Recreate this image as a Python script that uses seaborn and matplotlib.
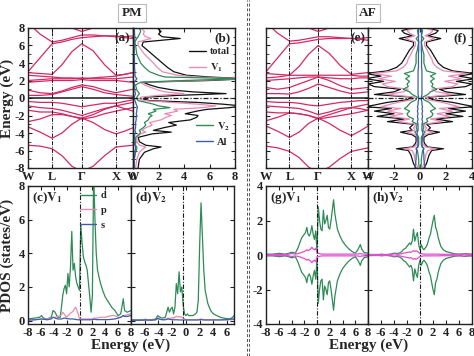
import matplotlib
matplotlib.use('Agg')
from matplotlib import pyplot as plt
from matplotlib.lines import Line2D
from matplotlib.ticker import MultipleLocator
import numpy as np
import pandas as pd
import seaborn as sns

# ------------------------------------------------------------
# Band structure data (W - L - Gamma - X - W, fcc path)
# ------------------------------------------------------------
k_path = [0.0, 0.115, 0.23, 0.324, 0.418, 0.512, 0.62, 0.729, 0.837, 0.918, 1.0]
k_ticks = [0.0, 0.23, 0.512, 0.837, 1.0]
k_labels = ['W', 'L', 'Γ', 'X', 'W']

pm_bands = [
    [-5.4, -5.5, -5.8, -6.6, -7.8, -8.4, -7.8, -6.6, -5.6, -5.5, -5.4],
    [-3.3, -3.9, -4.6, -4.0, -3.0, -2.3, -2.8, -3.6, -4.1, -3.8, -3.4],
    [-2.7, -2.4, -1.9, -1.9, -2.1, -2.3, -1.9, -1.3, -0.9, -0.7, -0.5],
    [-1.4, -1.6, -1.6, -1.8, -2.1, -2.4, -2.2, -1.8, -1.5, -1.3, -1.1],
    [-0.9, -1.1, -1.2, -1.4, -1.7, -2.0, -1.6, -1.2, -0.9, -1.2, -1.5],
    [-0.4, -0.5, -0.5, -0.6, -0.8, -1.0, -0.8, -0.6, -0.6, -0.4, -0.2],
    [0.3, 0.3, 0.4, 0.7, 1.0, 1.3, 1.0, 0.6, 0.4, 0.3, 0.2],
    [0.9, 0.6, 0.5, 0.8, 1.2, 1.5, 1.3, 0.9, 0.6, 0.8, 1.0],
    [1.8, 1.9, 2.0, 2.0, 2.0, 2.1, 2.0, 2.0, 2.0, 1.9, 1.8],
    [2.0, 2.1, 2.2, 2.2, 2.2, 2.3, 2.2, 2.2, 2.2, 2.3, 2.4],
    [2.6, 2.5, 2.4, 2.3, 2.3, 2.2, 2.3, 2.4, 2.5, 2.7, 2.9],
    [2.9, 2.8, 2.7, 3.8, 5.3, 6.2, 5.4, 3.8, 2.6, 2.7, 2.9],
    [3.0, 4.6, 6.2, 6.4, 6.7, 6.9, 7.0, 7.1, 7.1, 6.9, 6.8],
    [8.6, 7.3, 6.4, 6.6, 6.9, 7.2, 7.2, 7.1, 7.0, 7.0, 7.1],
    [9.5, 9.5, 9.0, 8.6, 8.0, 7.6, 8.0, 8.6, 9.0, 9.5, 9.5],
]

af_bands = [
    [-5.5, -5.7, -6.1, -6.8, -7.9, -8.5, -7.9, -6.9, -6.1, -5.9, -5.7],
    [-3.2, -3.8, -4.5, -3.9, -2.9, -2.3, -2.9, -3.7, -4.3, -3.8, -3.2],
    [-2.6, -2.2, -1.7, -1.8, -2.0, -2.3, -1.9, -1.5, -1.1, -0.9, -0.7],
    [-1.6, -1.7, -1.7, -1.8, -2.0, -2.4, -2.2, -2.0, -1.8, -1.6, -1.4],
    [-0.9, -1.0, -1.1, -1.2, -1.5, -1.9, -1.6, -1.2, -1.1, -1.2, -1.4],
    [-0.4, -0.5, -0.5, -0.6, -0.8, -0.9, -0.7, -0.5, -0.4, -0.3, -0.3],
    [0.5, 0.5, 0.45, 0.7, 1.1, 1.6, 1.2, 0.8, 0.5, 0.6, 0.7],
    [1.2, 1.0, 1.2, 1.6, 2.0, 2.4, 2.0, 1.4, 1.0, 1.1, 1.2],
    [2.0, 2.1, 2.2, 2.3, 2.4, 2.4, 2.3, 2.2, 2.2, 2.3, 2.3],
    [2.3, 2.4, 2.6, 2.6, 2.6, 2.6, 2.6, 2.6, 2.6, 2.5, 2.5],
    [2.8, 2.7, 2.6, 3.6, 5.0, 6.0, 5.1, 3.7, 2.7, 2.8, 2.9],
    [3.0, 4.6, 6.2, 6.3, 6.5, 6.7, 6.8, 6.8, 6.8, 6.7, 6.6],
    [8.6, 7.4, 6.5, 6.6, 6.8, 7.0, 7.0, 6.9, 6.8, 6.8, 6.9],
    [9.5, 9.5, 9.0, 8.6, 8.0, 7.6, 8.0, 8.6, 9.0, 9.5, 9.5],
]

# ------------------------------------------------------------
# Total / site DOS, PM (b)
# ------------------------------------------------------------
e_b = [-8.0, -7.0, -6.2, -5.8, -5.6, -5.4, -5.0, -4.5, -4.1, -3.9,
       -3.7, -3.4, -3.1, -2.8, -2.5, -2.2, -2.0, -1.8, -1.5, -1.3,
       -1.1, -0.9, -0.7, -0.5, -0.3, -0.1, 0.1, 0.3, 0.5, 0.7,
       0.9, 1.2, 1.5, 1.8, 2.0, 2.2, 2.4, 2.6, 3.0, 3.5,
       4.0, 5.0, 6.0, 6.4, 6.8, 7.0, 7.3, 7.6, 8.0]
total_b = [0.4, 0.5, 0.9, 1.6, 2.2, 1.0, 0.5, 0.4, 1.5, 3.0,
           1.6, 2.4, 3.4, 2.8, 4.5, 5.0, 5.1, 4.1, 5.0, 5.8,
           7.6, 8.5, 7.0, 5.0, 1.3, 0.8, 1.0, 3.5, 7.3, 4.7,
           3.2, 2.0, 1.3, 0.8, 6.0, 9.0, 6.0, 4.2, 3.2, 2.7,
           2.3, 1.5, 0.7, 0.8, 3.7, 2.3, 2.0, 2.2, 1.9]
v1_b = [0.2, 0.3, 0.5, 0.8, 1.0, 0.5, 0.3, 0.3, 0.6, 1.0,
        0.7, 1.0, 1.5, 1.3, 2.2, 2.6, 3.0, 2.5, 3.5, 3.2,
        5.5, 6.5, 5.0, 3.0, 0.8, 0.5, 0.6, 2.0, 4.0, 2.5,
        2.0, 1.4, 0.9, 0.6, 5.0, 8.5, 5.0, 3.5, 2.3, 1.9,
        1.6, 0.9, 0.4, 0.4, 1.4, 1.0, 0.8, 0.9, 0.6]
v2_b = [0.1, 0.1, 0.2, 0.3, 0.3, 0.2, 0.2, 0.2, 0.5, 0.6,
        0.5, 0.8, 1.0, 0.9, 1.2, 1.3, 1.5, 1.2, 1.8, 1.6,
        2.9, 2.0, 1.6, 1.0, 0.4, 0.3, 0.3, 0.4, 0.5, 0.4,
        0.3, 0.25, 0.2, 0.6, 4.0, 8.5, 2.5, 2.0, 1.3, 0.9,
        0.6, 0.3, 0.2, 0.15, 0.3, 0.4, 0.5, 0.6, 0.5]
al_b = [0.1, 0.1, 0.15, 0.2, 0.2, 0.15, 0.1, 0.1, 0.15, 0.2,
        0.15, 0.2, 0.2, 0.2, 0.25, 0.25, 0.3, 0.25, 0.3, 0.3,
        0.35, 0.3, 0.25, 0.2, 0.15, 0.1, 0.1, 0.15, 0.2, 0.15,
        0.15, 0.1, 0.1, 0.1, 0.2, 0.3, 0.2, 0.15, 0.15, 0.12,
        0.12, 0.1, 0.1, 0.1, 0.15, 0.15, 0.12, 0.12, 0.1]

# ------------------------------------------------------------
# Spin-up DOS, AF (f) -- spin-down drawn mirrored
# ------------------------------------------------------------
e_f = [-8.0, -7.5, -7.0, -6.5, -6.0, -5.8, -5.6, -5.3, -5.0, -4.5,
       -4.2, -3.9, -3.7, -3.4, -3.0, -2.7, -2.4, -2.1, -1.8, -1.5,
       -1.2, -1.0, -0.8, -0.5, -0.2, 0.1, 0.4, 0.7, 1.0, 1.3,
       1.6, 1.9, 2.2, 2.5, 2.8, 3.1, 3.5, 4.0, 4.5, 5.0,
       5.5, 6.0, 6.4, 6.8, 7.1, 7.4, 7.7, 8.0]
total_f = [0.3, 0.5, 0.6, 0.7, 0.9, 1.8, 0.6, 0.4, 0.3, 0.3,
           0.6, 1.5, 0.6, 0.8, 0.5, 2.5, 1.2, 3.3, 2.0, 3.5,
           2.2, 4.2, 3.5, 2.5, 1.0, 0.6, 3.5, 2.0, 1.5, 3.5,
           4.0, 2.8, 4.2, 3.0, 4.2, 2.5, 1.8, 1.4, 1.2, 1.0,
           0.8, 0.5, 0.5, 1.6, 0.6, 1.2, 1.4, 0.6]
v1_f = [0.15, 0.3, 0.4, 0.45, 0.6, 1.2, 0.4, 0.25, 0.2, 0.2,
        0.35, 1.0, 0.4, 0.5, 0.3, 1.7, 0.8, 2.3, 1.3, 2.5,
        1.5, 3.0, 2.5, 1.7, 0.6, 0.4, 2.5, 1.3, 0.9, 2.5,
        2.9, 1.9, 3.2, 2.2, 3.6, 1.8, 1.3, 1.0, 0.9, 0.7,
        0.55, 0.35, 0.35, 1.1, 0.4, 0.8, 1.0, 0.4]
v2_f = [0.05, 0.1, 0.1, 0.15, 0.2, 0.3, 0.15, 0.1, 0.1, 0.1,
        0.2, 0.4, 0.2, 0.3, 0.2, 0.6, 0.5, 0.9, 1.0, 0.8,
        1.2, 1.0, 0.9, 0.7, 0.3, 0.2, 0.6, 0.8, 1.3, 0.9,
        1.0, 0.8, 1.1, 0.8, 1.2, 0.5, 0.4, 0.3, 0.3, 0.3,
        0.2, 0.15, 0.1, 0.3, 0.1, 0.15, 0.2, 0.1]
al_f = [0.4, 0.35, 0.3, 0.3, 0.25, 0.3, 0.2, 0.15, 0.15, 0.2,
        0.25, 0.2, 0.15, 0.15, 0.15, 0.2, 0.15, 0.2, 0.15, 0.2,
        0.15, 0.2, 0.15, 0.15, 0.1, 0.1, 0.15, 0.15, 0.15, 0.15,
        0.15, 0.15, 0.15, 0.15, 0.15, 0.15, 0.12, 0.12, 0.12, 0.12,
        0.1, 0.1, 0.1, 0.12, 0.12, 0.12, 0.1, 0.1]

# ------------------------------------------------------------
# Partial DOS of V1 / V2 (c, d: PM; g, h: AF spin-up)
# ------------------------------------------------------------
e_p = [-8.0, -7.0, -6.2, -5.9, -5.6, -5.0, -4.4, -4.1, -3.8, -3.4,
       -3.0, -2.8, -2.6, -2.4, -2.2, -2.0, -1.8, -1.6, -1.4, -1.2,
       -1.0, -0.8, -0.6, -0.4, -0.2, 0.0, 0.2, 0.4, 0.6, 0.8,
       1.0, 1.2, 1.4, 1.6, 1.8, 2.0, 2.2, 2.4, 2.6, 2.8,
       3.2, 3.6, 4.0, 4.5, 5.0, 5.5, 6.0, 6.4, 6.8, 7.0,
       7.4, 8.0]

d_c = [0.10, 0.15, 0.20, 0.30, 0.15, 0.10, 0.20, 0.60, 0.50, 0.20,
       0.20, 0.80, 1.50, 1.90, 2.10, 1.60, 2.80, 2.00, 3.20, 5.30,
       3.00, 3.40, 2.60, 2.20, 2.00, 1.80, 5.70, 4.60, 3.80, 3.50,
       3.30, 3.00, 2.20, 1.40, 0.50, 1.50, 8.80, 6.00, 4.00, 3.00,
       2.30, 1.80, 1.40, 1.10, 0.80, 0.60, 0.30, 0.40, 1.30, 0.60,
       0.50, 0.60]
p_c = [0.05, 0.05, 0.08, 0.10, 0.08, 0.10, 0.15, 0.20, 0.20, 0.25,
       0.30, 0.35, 0.50, 0.40, 0.30, 0.20, 0.30, 0.35, 0.45, 0.50,
       0.55, 0.70, 0.80, 0.60, 0.40, 0.10, 0.10, 0.10, 0.10, 0.10,
       0.10, 0.10, 0.10, 0.10, 0.10, 0.10, 0.15, 0.15, 0.15, 0.15,
       0.20, 0.20, 0.20, 0.25, 0.30, 0.30, 0.20, 0.20, 0.30, 0.30,
       0.35, 0.40]
s_c = [0.03, 0.05, 0.08, 0.10, 0.08, 0.05, 0.10, 0.20, 0.15, 0.10,
       0.10, 0.10, 0.12, 0.15, 0.15, 0.12, 0.12, 0.10, 0.10, 0.10,
       0.10, 0.08, 0.08, 0.06, 0.05, 0.05, 0.05, 0.05, 0.05, 0.05,
       0.05, 0.05, 0.05, 0.05, 0.05, 0.06, 0.08, 0.08, 0.06, 0.06,
       0.06, 0.06, 0.06, 0.06, 0.08, 0.10, 0.15, 0.20, 0.30, 0.25,
       0.25, 0.30]

d_d = [0.05, 0.05, 0.05, 0.08, 0.05, 0.05, 0.10, 0.30, 0.20, 0.15,
       0.20, 0.50, 0.80, 0.50, 0.70, 0.80, 0.40, 0.80, 2.20, 1.60,
       2.90, 1.70, 2.00, 0.90, 0.40, 0.30, 0.40, 0.30, 0.30, 0.30,
       0.30, 0.35, 0.40, 0.50, 1.20, 4.50, 7.00, 5.00, 3.00, 1.80,
       1.00, 0.60, 0.40, 0.30, 0.20, 0.15, 0.12, 0.10, 0.20, 0.30,
       0.35, 0.40]
p_d = [0.02, 0.02, 0.03, 0.04, 0.03, 0.03, 0.05, 0.10, 0.08, 0.06,
       0.08, 0.10, 0.15, 0.12, 0.15, 0.18, 0.15, 0.20, 0.25, 0.22,
       0.25, 0.20, 0.22, 0.15, 0.10, 0.05, 0.05, 0.05, 0.05, 0.05,
       0.05, 0.05, 0.05, 0.05, 0.06, 0.08, 0.10, 0.08, 0.06, 0.05,
       0.05, 0.05, 0.05, 0.05, 0.05, 0.05, 0.05, 0.05, 0.06, 0.08,
       0.08, 0.10]
s_d = [0.02, 0.02, 0.03, 0.04, 0.03, 0.03, 0.05, 0.15, 0.08, 0.05,
       0.05, 0.08, 0.10, 0.08, 0.06, 0.06, 0.05, 0.05, 0.05, 0.05,
       0.04, 0.04, 0.04, 0.04, 0.04, 0.04, 0.04, 0.04, 0.04, 0.04,
       0.04, 0.04, 0.04, 0.04, 0.04, 0.05, 0.06, 0.05, 0.04, 0.04,
       0.04, 0.04, 0.04, 0.04, 0.04, 0.05, 0.06, 0.08, 0.10, 0.10,
       0.10, 0.12]

d_g = [0.05, 0.05, 0.08, 0.10, 0.08, 0.05, 0.10, 0.15, 0.15, 0.10,
       0.40, 0.60, 0.80, 1.00, 1.10, 1.20, 1.30, 1.60, 1.20, 1.10,
       1.30, 1.70, 1.20, 0.90, 1.40, 0.20, 2.80, 2.00, 1.50, 1.40,
       2.60, 1.80, 2.00, 2.30, 1.60, 1.50, 2.00, 2.60, 3.20, 2.40,
       1.50, 1.10, 0.80, 0.55, 0.35, 0.20, 0.10, 0.30, 0.60, 0.35,
       0.15, 0.10]
p_g = [0.02, 0.02, 0.03, 0.04, 0.03, 0.02, 0.05, 0.08, 0.08, 0.05,
       0.08, 0.10, 0.12, 0.15, 0.18, 0.20, 0.25, 0.30, 0.25, 0.30,
       0.35, 0.45, 0.35, 0.30, 0.40, 0.10, 0.10, 0.08, 0.06, 0.05,
       0.05, 0.05, 0.05, 0.05, 0.05, 0.05, 0.05, 0.05, 0.05, 0.05,
       0.05, 0.05, 0.05, 0.05, 0.05, 0.05, 0.05, 0.06, 0.08, 0.06,
       0.05, 0.05]
d_h = [0.03, 0.03, 0.03, 0.05, 0.03, 0.03, 0.06, 0.10, 0.10, 0.08,
       0.15, 0.20, 0.30, 0.35, 0.40, 0.50, 0.60, 0.70, 0.60, 0.80,
       1.50, 0.80, 1.10, 1.30, 0.60, 0.30, 0.60, 0.40, 0.30, 0.40,
       0.50, 0.70, 1.00, 1.20, 1.60, 2.00, 2.30, 1.60, 1.40, 1.00,
       0.50, 0.30, 0.20, 0.15, 0.10, 0.06, 0.05, 0.05, 0.08, 0.08,
       0.06, 0.05]
p_h = [0.02, 0.02, 0.02, 0.03, 0.02, 0.02, 0.04, 0.06, 0.06, 0.04,
       0.06, 0.08, 0.10, 0.12, 0.12, 0.15, 0.15, 0.18, 0.15, 0.20,
       0.25, 0.20, 0.25, 0.20, 0.15, 0.08, 0.08, 0.06, 0.05, 0.05,
       0.05, 0.05, 0.05, 0.05, 0.05, 0.05, 0.05, 0.05, 0.05, 0.05,
       0.04, 0.04, 0.04, 0.04, 0.04, 0.04, 0.04, 0.05, 0.06, 0.05,
       0.04, 0.04]

BAND_C = '#d42a63'
BLACK = '#111111'
PINK = '#e88bb5'
GREEN = '#2e8b57'
BLUE = '#3c5ea8'
MAGENTA = '#e04fd0'
DASHDOT = (0, (4, 1.5, 1, 1.5))

sns.set_theme(style='ticks')
plt.rcParams['font.family'] = ['Liberation Serif', 'DejaVu Serif']
plt.rcParams['font.weight'] = 'bold'
plt.rcParams['axes.labelweight'] = 'bold'
plt.rcParams['axes.unicode_minus'] = False
plt.rcParams['mathtext.fontset'] = 'stix'
plt.rcParams['axes.linewidth'] = 1.0
plt.rcParams['axes.edgecolor'] = '#222222'

W, H = 474, 356
fig = plt.figure(figsize=(W / 100, H / 100), dpi=100)


def rect(x0, x1, y0, y1):
    return [x0 / W, 1 - y1 / H, (x1 - x0) / W, (y1 - y0) / H]


def style(ax):
    ax.tick_params(direction='in', top=True, right=True, length=3,
                   width=0.8, labelsize=9, pad=2, colors='#222222')
    ax.tick_params(which='minor', direction='in', length=1.8, width=0.6,
                   left=True, right=True)
    ax.set_xlabel('')
    ax.set_ylabel('')


def bold_ticks(ax):
    for t in ax.get_xticklabels() + ax.get_yticklabels():
        t.set_fontweight('bold')


def draw_bands(ax, bands):
    rows = []
    for i, band in enumerate(bands):
        for k, e in zip(k_path, band):
            rows.append((i, k, e))
    df = pd.DataFrame(rows, columns=['band', 'k', 'E'])
    sns.lineplot(data=df, x='k', y='E', units='band', estimator=None,
                 sort=False, color=BAND_C, lw=0.9, ax=ax)
    for kv in k_ticks[1:-1]:
        ax.axvline(kv, color='k', ls=DASHDOT, lw=0.7)
    ax.axhline(0, color='k', lw=1.1)
    ax.set_xlim(0, 1)
    ax.set_ylim(-8, 8)
    ax.set_xticks(k_ticks)
    ax.set_xticklabels(k_labels, fontsize=9.5)
    ax.yaxis.set_major_locator(MultipleLocator(2))
    ax.yaxis.set_minor_locator(MultipleLocator(1))
    style(ax)


def draw_dos_h(ax, energy, series, mirror=False):
    for vals, c in series:
        sns.lineplot(x=vals, y=energy, orient='y', sort=False, estimator=None,
                     color=c, lw=0.9, ax=ax)
        if mirror:
            sns.lineplot(x=[-v for v in vals], y=energy, orient='y', sort=False,
                         estimator=None, color=c, lw=0.9, ax=ax)
    ax.axhline(0, color='k', ls=DASHDOT, lw=0.9)
    ax.set_ylim(-8, 8)
    ax.yaxis.set_major_locator(MultipleLocator(2))
    ax.yaxis.set_minor_locator(MultipleLocator(1))
    ax.set_yticklabels([])
    style(ax)


def draw_pdos(ax, series, mirror=False, vline=0.0):
    for vals, c in series:
        sns.lineplot(x=e_p, y=vals, sort=False, estimator=None, color=c,
                     lw=0.9, ax=ax)
        if mirror:
            sns.lineplot(x=e_p, y=[-v for v in vals], sort=False,
                         estimator=None, color=c, lw=0.9, ax=ax)
    ax.axvline(vline, color='k', ls=DASHDOT, lw=0.8)
    style(ax)


# ---------------- PM top row
ax_a = fig.add_axes(rect(28, 133, 28, 168))
draw_bands(ax_a, pm_bands)
ax_a.set_ylabel('Energy (eV)', fontsize=11)
ax_a.yaxis.set_label_coords(-0.135, 0.5)
ax_a.text(0.97, 0.97, '(a)', transform=ax_a.transAxes, ha='right', va='top',
          fontsize=9.5, fontweight='bold')

ax_b = fig.add_axes(rect(133, 235, 28, 168))
draw_dos_h(ax_b, e_b, [(total_b, BLACK), (v1_b, PINK), (v2_b, GREEN), (al_b, BLUE)])
ax_b.set_xlim(0, 8)
ax_b.set_xticks([0, 2, 4, 6, 8])
ax_b.text(0.96, 0.97, '(b)', transform=ax_b.transAxes, ha='right', va='top',
          fontsize=9.5, fontweight='bold')
leg_kw = dict(frameon=False, fontsize=7.5, handlelength=1.6, handletextpad=0.4,
              labelspacing=0.5, borderaxespad=0.1)
leg1 = ax_b.legend([Line2D([], [], color=BLACK, lw=1), Line2D([], [], color=PINK, lw=1)],
                   ['total', r'$\mathbf{V_1}$'], loc='upper right',
                   bbox_to_anchor=(1.0, 0.9), **leg_kw)
ax_b.add_artist(leg1)
ax_b.legend([Line2D([], [], color=GREEN, lw=1), Line2D([], [], color=BLUE, lw=1)],
            [r'$\mathbf{V_2}$', 'Al'], loc='upper right',
            bbox_to_anchor=(1.0, 0.38), **leg_kw)

# ---------------- AF top row
ax_e = fig.add_axes(rect(266, 368, 28, 168))
draw_bands(ax_e, af_bands)
ax_e.set_yticklabels([])
ax_e.text(0.97, 0.97, '(e)', transform=ax_e.transAxes, ha='right', va='top',
          fontsize=9.5, fontweight='bold')

ax_f = fig.add_axes(rect(368, 472, 28, 168))
draw_dos_h(ax_f, e_f, [(total_f, BLACK), (v1_f, PINK), (v2_f, GREEN), (al_f, BLUE)],
           mirror=True)
ax_f.set_xlim(-4, 4)
ax_f.set_xticks([-4, -2, 0, 2, 4])
ax_f.text(0.95, 0.97, '(f)', transform=ax_f.transAxes, ha='right', va='top',
          fontsize=9.5, fontweight='bold')

# ---------------- PM bottom row
ax_c = fig.add_axes(rect(28, 131, 186, 324))
draw_pdos(ax_c, [(d_c, GREEN), (p_c, PINK), (s_c, BLUE)])
ax_c.set_xlim(-8, 8)
ax_c.set_ylim(-0.2, 8)
ax_c.set_xticks(range(-8, 9, 2))
ax_c.set_yticks([0, 2, 4, 6, 8])
ax_c.set_ylabel('PDOS (states/eV)', fontsize=11)
ax_c.yaxis.set_label_coords(-0.14, 0.5)
ax_c.text(0.04, 0.97, r'(c)$\mathbf{V_1}$', transform=ax_c.transAxes,
          ha='left', va='top', fontsize=9.5, fontweight='bold')
ax_c.legend([Line2D([], [], color=GREEN, lw=1), Line2D([], [], color=PINK, lw=1),
             Line2D([], [], color=BLUE, lw=1)], ['d', 'p', 's'],
            loc='upper left', bbox_to_anchor=(0.45, 1.0), **leg_kw)

ax_d = fig.add_axes(rect(131, 234, 186, 324))
draw_pdos(ax_d, [(d_d, GREEN), (p_d, PINK), (s_d, BLUE)], vline=-0.45)
ax_d.set_xlim(-8, 7)
ax_d.set_ylim(-0.2, 8)
ax_d.set_xticks(range(-8, 7, 2))
ax_d.set_xticklabels([''] + [str(v) for v in range(-6, 7, 2)])
ax_d.set_yticks([0, 2, 4, 6, 8])
ax_d.set_yticklabels([])
ax_d.text(0.04, 0.97, r'(d)$\mathbf{V_2}$', transform=ax_d.transAxes,
          ha='left', va='top', fontsize=9.5, fontweight='bold')

# ---------------- AF bottom row
ax_g = fig.add_axes(rect(266, 368, 186, 324))
draw_pdos(ax_g, [(d_g, GREEN), (p_g, MAGENTA)], mirror=True)
ax_g.set_xlim(-8, 8)
ax_g.set_ylim(-4, 4)
ax_g.set_xticks(range(-8, 9, 2))
ax_g.set_yticks([-4, -2, 0, 2, 4])
ax_g.text(0.04, 0.97, r'(g)$\mathbf{V_1}$', transform=ax_g.transAxes,
          ha='left', va='top', fontsize=9.5, fontweight='bold')

ax_h = fig.add_axes(rect(368, 472, 186, 324))
draw_pdos(ax_h, [(d_h, GREEN), (p_h, MAGENTA)], mirror=True)
ax_h.set_xlim(-8, 8)
ax_h.set_ylim(-4, 4)
ax_h.set_xticks(range(-8, 9, 2))
ax_h.set_xticklabels([''] + [str(v) for v in range(-6, 9, 2)])
ax_h.set_yticks([-4, -2, 0, 2, 4])
ax_h.set_yticklabels([])
ax_h.text(0.04, 0.97, r'(h)$\mathbf{V_2}$', transform=ax_h.transAxes,
          ha='left', va='top', fontsize=9.5, fontweight='bold')

for ax in (ax_a, ax_b, ax_c, ax_d, ax_e, ax_f, ax_g, ax_h):
    bold_ticks(ax)

# ---------------- figure annotations
fig.text(131 / W, 1 - 345 / H, 'Energy (eV)', ha='center', va='center',
         fontsize=11, fontweight='bold')
fig.text(369 / W, 1 - 345 / H, 'Energy (eV)', ha='center', va='center',
         fontsize=11, fontweight='bold')

box = dict(boxstyle='square,pad=0.25', facecolor='white', edgecolor='#bbbbbb', lw=0.8)
fig.text(132 / W, 1 - 13 / H, 'PM', ha='center', va='center', fontsize=9.5,
         fontweight='bold', bbox=box)
fig.text(368 / W, 1 - 13 / H, 'AF', ha='center', va='center', fontsize=9.5,
         fontweight='bold', bbox=box)

for xs in (246.5, 249.5):
    fig.add_artist(Line2D([xs / W, xs / W], [0, 1], transform=fig.transFigure,
                          color='#555555', ls=(0, (3, 2)), lw=0.7))

fig.savefig('out.png', dpi=100)
